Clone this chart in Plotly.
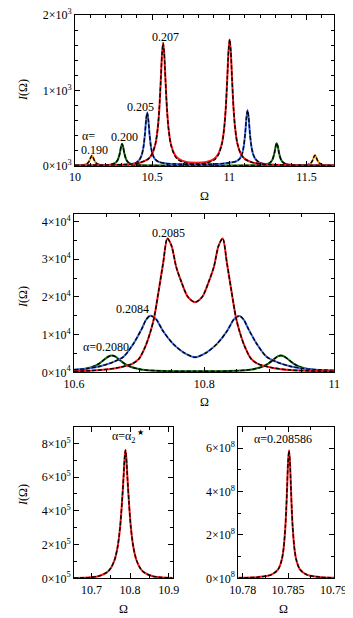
import plotly.graph_objects as go

# ---------------- Panel 1 data (Omega, I) ----------------
p1_orange_x = [10.0, 10.04, 10.06, 10.075, 10.085, 10.095, 10.103, 10.11, 10.117, 10.125, 10.135, 10.145,
               10.16, 10.18, 10.22, 10.3, 10.5, 10.8, 11.1, 11.35, 11.43, 11.47, 11.49, 11.505, 11.52,
               11.53, 11.54, 11.548, 11.555, 11.562, 11.57, 11.58, 11.595, 11.61, 11.63, 11.68]
p1_orange_y = [2.8, 6.7, 12.5, 23, 39, 72, 113, 135, 113, 72, 39, 23,
               12.5, 6.7, 2.8, 1.0, 0.4, 0.3, 0.4, 0.9, 2.3, 4.8, 8, 13, 24,
               40, 74, 117, 140, 117, 74, 40, 19, 11, 6.1, 2.3]

p1_green_x = [10.0, 10.1, 10.185, 10.23, 10.255, 10.27, 10.28, 10.29, 10.298, 10.305, 10.312, 10.32,
              10.33, 10.34, 10.355, 10.38, 10.425, 10.5, 10.65, 10.8, 10.95, 11.1, 11.187, 11.232,
              11.257, 11.272, 11.282, 11.292, 11.3, 11.307, 11.314, 11.322, 11.332, 11.342, 11.357,
              11.382, 11.427, 11.5, 11.68]
p1_green_y = [0.9, 2.1, 5.7, 14, 30, 55, 92, 162, 248, 290, 248, 162,
              92, 55, 30, 14, 5.7, 2.1, 1.0, 1.0, 1.0, 2.1, 6, 15,
              31, 57, 95, 168, 256, 300, 256, 168, 95, 57, 31,
              15, 6, 2.2, 0.8]

p1_blue_x = [10.0, 10.2, 10.35, 10.395, 10.418, 10.433, 10.443, 10.453, 10.461, 10.468, 10.475, 10.483,
             10.493, 10.503, 10.518, 10.543, 10.59, 10.65, 10.75, 10.85, 10.95, 11.0, 11.043, 11.068,
             11.083, 11.093, 11.103, 11.111, 11.118, 11.125, 11.133, 11.143, 11.153, 11.168, 11.193,
             11.24, 11.35, 11.5, 11.68]
p1_blue_y = [3, 6, 16, 38, 81, 147, 240, 416, 613, 706, 613, 416,
             240, 150, 88, 50, 30, 22, 18, 19, 27, 40, 56, 94,
             160, 255, 434, 640, 735, 640, 434, 255, 160, 90, 45,
             20, 7, 3.5, 2]

p1_red_x = [10.0, 10.2, 10.35, 10.42, 10.471, 10.496, 10.521, 10.536, 10.546, 10.556, 10.564, 10.571,
            10.578, 10.586, 10.596, 10.606, 10.621, 10.646, 10.671, 10.721, 10.787, 10.85, 10.902,
            10.927, 10.952, 10.967, 10.977, 10.987, 10.995, 11.002, 11.009, 11.017, 11.027, 11.037,
            11.052, 11.077, 11.102, 11.152, 11.252, 11.4, 11.68]
p1_red_y = [3.5, 7.6, 19.5, 40, 84, 143, 288, 495, 748, 1145, 1491, 1630,
            1492, 1146, 749, 497, 290, 148, 90, 48, 40, 48, 91,
            151, 298, 510, 770, 1177, 1533, 1675, 1533, 1176, 769, 508,
            296, 147, 87, 41, 16, 7, 2.8]
# black dashed approximation for alpha=0.207 (lower between the peaks)
p1_red_fit_y = [3.5, 7.6, 19.5, 40, 84, 143, 288, 495, 748, 1145, 1491, 1630,
                1492, 1146, 749, 492, 280, 132, 74, 34, 22, 34, 76,
                136, 288, 505, 770, 1177, 1533, 1675, 1533, 1176, 769, 508,
                296, 147, 87, 41, 16, 7, 2.8]

# ---------------- Panel 2 data ----------------
p2_green_x = [10.6, 10.615, 10.628, 10.638, 10.648, 10.653, 10.658, 10.663, 10.668, 10.678, 10.688,
              10.703, 10.738, 10.788, 10.838, 10.873, 10.888, 10.898, 10.908, 10.913, 10.918,
              10.923, 10.928, 10.938, 10.948, 10.961, 10.98, 11.0]
p2_green_y = [490, 810, 1390, 2245, 3580, 4190, 4470, 4210, 3580, 2250, 1390,
              760, 330, 300, 330, 760, 1390, 2250, 3580, 4210, 4470,
              4190, 3580, 2245, 1390, 810, 470, 320]

p2_blue_x = [10.6, 10.62, 10.64, 10.66, 10.676, 10.691, 10.704, 10.711, 10.717, 10.722, 10.727,
             10.737, 10.752, 10.768, 10.786, 10.804, 10.82, 10.835, 10.845, 10.85, 10.855,
             10.861, 10.868, 10.881, 10.896, 10.912, 10.932, 10.952, 10.972, 11.0]
p2_blue_y = [700, 1000, 1600, 2700, 4100, 7500, 11500, 14000, 15000, 14700, 13900,
             10900, 7600, 5300, 4000, 5300, 7600, 10900, 13900, 14700, 14900,
             13900, 11500, 7500, 4100, 2700, 1600, 1000, 700, 500]

p2_red_x = [10.6, 10.64, 10.67, 10.69, 10.7, 10.71, 10.717, 10.723, 10.73, 10.737, 10.7435, 10.75,
            10.757, 10.765, 10.775, 10.786, 10.797, 10.807, 10.815, 10.822, 10.8285, 10.835,
            10.842, 10.849, 10.855, 10.862, 10.872, 10.882, 10.902, 10.932, 11.0]
p2_red_y = [250, 600, 1300, 2300, 3600, 7000, 10500, 14400, 21500, 29000, 35500, 33500,
            28000, 24000, 20000, 18600, 20000, 24000, 28000, 33500, 35500, 29000,
            21500, 14400, 10500, 7000, 3600, 2300, 1300, 600, 250]

# ---------------- Panel 3 data (alpha = alpha_2*) ----------------
p3_x = [10.655, 10.68, 10.70, 10.72, 10.74, 10.75, 10.76, 10.768, 10.774, 10.779, 10.783, 10.786,
        10.788, 10.79, 10.793, 10.797, 10.802, 10.808, 10.816, 10.826, 10.836, 10.856, 10.876, 10.91]
p3_y = [1500, 3000, 6000, 14000, 35000, 60000, 110000, 190000, 300000, 450000, 600000, 720000,
        760000, 720000, 600000, 450000, 300000, 190000, 110000, 60000, 35000, 14000, 6000, 2000]

# ---------------- Panel 4 data (alpha = 0.208586) ----------------
p4_x = [10.7795, 10.7816, 10.7831, 10.7839, 10.7843, 10.7845, 10.7847, 10.7848, 10.7849, 10.785,
        10.7851, 10.7852, 10.7853, 10.7854, 10.7855, 10.7857, 10.7859, 10.7863, 10.7871, 10.7886, 10.7901]
p4_y = [2.1e6, 5.2e6, 15.6e6, 41.5e6, 86e6, 137e6, 239e6, 323e6, 431e6, 540e6,
        590e6, 540e6, 431e6, 323e6, 239e6, 137e6, 86e6, 41.5e6, 15.6e6, 5.2e6, 2.5e6]

# ---------------- tick labels ----------------
p1_yticks = [0, 1000, 2000]
p1_yticktext = ["0×10<sup>3</sup>", "1×10<sup>3</sup>", "2×10<sup>3</sup>"]
p2_yticks = [0, 10000, 20000, 30000, 40000]
p2_yticktext = ["0×10<sup>4</sup>", "1×10<sup>4</sup>", "2×10<sup>4</sup>", "3×10<sup>4</sup>", "4×10<sup>4</sup>"]
p3_yticks = [0, 2e5, 4e5, 6e5, 8e5]
p3_yticktext = ["0×10<sup>5</sup>", "2×10<sup>5</sup>", "4×10<sup>5</sup>", "6×10<sup>5</sup>", "8×10<sup>5</sup>"]
p4_yticks = [0, 2e8, 4e8, 6e8]
p4_yticktext = ["0×10<sup>8</sup>", "2×10<sup>8</sup>", "4×10<sup>8</sup>", "6×10<sup>8</sup>"]
p1_xticks = [10, 10.5, 11, 11.5]
p1_xticktext = ["10", "10.5", "11", "11.5"]
p2_xticks = [10.6, 10.8, 11.0]
p2_xticktext = ["10.6", "10.8", "11"]
p3_xticks = [10.7, 10.8, 10.9]
p3_xticktext = ["10.7", "10.8", "10.9"]
p4_xticks = [10.78, 10.785, 10.79]
p4_xticktext = ["10.78", "10.785", "10.79"]

ORANGE = "#ff9a00"
GREEN = "#107010"
BLUE = "#3c6cf0"
RED = "#ff1a1a"
FONT = "Liberation Serif, Times New Roman, serif"
OFF = 8                      # page body margin of the html page
W, H = 353 - OFF, 618 - OFF  # figure size so the visible window matches

fig = go.Figure()


def add_curve(x, y, color, xa, ya, fit_y=None):
    fig.add_trace(go.Scatter(x=x, y=y, mode="lines", line=dict(color=color, width=2, shape="spline", smoothing=0.8),
                             xaxis=xa, yaxis=ya, showlegend=False, hoverinfo="skip"))
    fig.add_trace(go.Scatter(x=x, y=fit_y if fit_y is not None else y, mode="lines",
                             line=dict(color="black", width=1.4, dash="4px,2px", shape="spline", smoothing=0.8),
                             xaxis=xa, yaxis=ya, showlegend=False, hoverinfo="skip"))


add_curve(p1_orange_x, p1_orange_y, ORANGE, "x", "y")
add_curve(p1_green_x, p1_green_y, GREEN, "x", "y")
add_curve(p1_blue_x, p1_blue_y, BLUE, "x", "y")
add_curve(p1_red_x, p1_red_y, RED, "x", "y", p1_red_fit_y)

add_curve(p2_green_x, p2_green_y, GREEN, "x2", "y2")
add_curve(p2_blue_x, p2_blue_y, BLUE, "x2", "y2")
add_curve(p2_red_x, p2_red_y, RED, "x2", "y2")

add_curve(p3_x, p3_y, RED, "x3", "y3")
add_curve(p4_x, p4_y, RED, "x4", "y4")


def fx(xp):
    return (xp - OFF) / W


def fy(yp):
    return 1 - (yp - OFF) / H


def axis(domain, rng, tickvals, ticktext, minor_dtick, anchor):
    return dict(domain=domain, range=rng, tickmode="array", tickvals=tickvals, ticktext=ticktext,
                ticks="inside", ticklen=5, tickwidth=1, tickcolor="black",
                showline=True, linecolor="black", linewidth=1, mirror="allticks",
                showgrid=False, zeroline=False, anchor=anchor, automargin=False,
                ticklabeloverflow="allow",
                tickfont=dict(family=FONT, size=12, color="black"),
                minor=dict(ticks="inside", ticklen=3, tickcolor="black", dtick=minor_dtick, showgrid=False))


xd_full = [fx(75), fx(334.3)]
xd_p2 = [fx(74), fx(334.3)]
xd_left = [fx(74), fx(172.7)]
xd_right = [fx(238.3), fx(334.3)]
yd1 = [fy(165.7), fy(15)]
yd2 = [fy(372.3), fy(214)]
yd3 = [fy(578.3), fy(426.5)]

fig.update_layout(
    width=W, height=H, margin=dict(l=0, r=0, t=0, b=0, autoexpand=False),
    paper_bgcolor="white", plot_bgcolor="white", showlegend=False,
    font=dict(family=FONT, size=12, color="black"),
    xaxis=axis(xd_full, [10, 11.68], p1_xticks, p1_xticktext, 0.1, "y"),
    yaxis=axis(yd1, [0, 2000], p1_yticks, p1_yticktext, 200, "x"),
    xaxis2=axis(xd_p2, [10.6, 11.0], p2_xticks, p2_xticktext, 0.05, "y2"),
    yaxis2=axis(yd2, [0, 42000], p2_yticks, p2_yticktext, 5000, "x2"),
    xaxis3=axis(xd_left, [10.655, 10.91], p3_xticks, p3_xticktext, 0.05, "y3"),
    yaxis3=axis(yd3, [0, 9e5], p3_yticks, p3_yticktext, 1e5, "x3"),
    xaxis4=axis(xd_right, [10.7795, 10.7901], p4_xticks, p4_xticktext, 0.0025, "y4"),
    yaxis4=axis(yd3, [0, 7e8], p4_yticks, p4_yticktext, 1e8, "x4"),
)

annots = []


def label(text, xp, yp, size=12, xanchor="center", angle=0):
    annots.append(dict(text=text, x=fx(xp), y=fy(yp), xref="paper", yref="paper", showarrow=False,
                       xanchor=xanchor, yanchor="middle", textangle=angle,
                       font=dict(family=FONT, size=size, color="black")))


# curve labels
label("0.207", 165.7, 36.7)
label("0.205", 140, 106.7)
label("0.200", 124, 136.7)
label("α=", 80, 135.5, xanchor="left")
label("0.190", 94.3, 149.5)
label("0.2085", 168.3, 233.3)
label("0.2084", 132.7, 309)
label("α=0.2080", 106, 346.7)
label("α=0.208586", 282.7, 439.3)
label("α=α<sub>2</sub>", 124, 437)
label("★", 140.5, 432, size=8)

# axis titles
for yp in (90, 297, 495):
    label("<i>I</i>(Ω)", 23, yp, angle=-90)
label("Ω", 204.5, 196)
label("Ω", 204, 401.7)
label("Ω", 123.3, 609.3)
label("Ω", 283.3, 609.3)

fig.update_layout(annotations=annots)
fig.write_html("out.html")
